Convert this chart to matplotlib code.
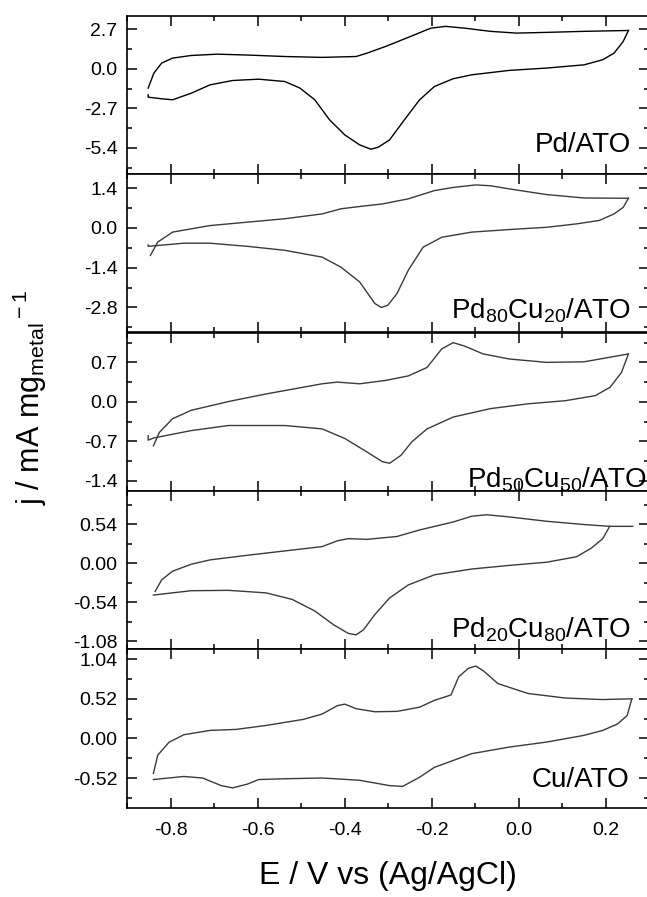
import matplotlib
matplotlib.use("Agg")
import matplotlib.pyplot as plt
from matplotlib.ticker import MultipleLocator, FormatStrFormatter

plt.rcParams['font.family'] = ['Liberation Sans', 'DejaVu Sans']
plt.rcParams['mathtext.fontset'] = 'custom'
plt.rcParams['mathtext.rm'] = 'Liberation Sans'
plt.rcParams['mathtext.it'] = 'Liberation Sans'
plt.rcParams['axes.unicode_minus'] = False

# catalyst names (top to bottom)
labels = ['Pd/ATO', r'Pd$_{80}$Cu$_{20}$/ATO', r'Pd$_{50}$Cu$_{50}$/ATO',
          r'Pd$_{20}$Cu$_{80}$/ATO', 'Cu/ATO']

# Pd/ATO
pd_fwd_E = [-0.852, -0.839, -0.821, -0.796, -0.753, -0.693, -0.624, -0.538, -0.452, -0.374,
            -0.349, -0.306, -0.254, -0.202, -0.168, -0.125, -0.065, -0.005, 0.064, 0.150, 0.252]
pd_fwd_j = [-1.32, -0.30, 0.39, 0.73, 0.91, 1.00, 0.94, 0.84, 0.78, 0.84,
            1.07, 1.53, 2.15, 2.78, 2.90, 2.78, 2.56, 2.44, 2.49, 2.56, 2.62]
pd_rev_E = [0.252, 0.240, 0.219, 0.193, 0.150, 0.064, -0.022, -0.108, -0.151, -0.194, -0.228,
            -0.263, -0.297, -0.323, -0.340, -0.366, -0.400, -0.435, -0.469, -0.503, -0.538,
            -0.598, -0.658, -0.710, -0.753, -0.796, -0.821, -0.852, -0.852]
pd_rev_j = [2.62, 1.87, 1.07, 0.62, 0.27, 0.05, -0.11, -0.41, -0.68, -1.21, -2.12,
            -3.49, -4.86, -5.36, -5.50, -5.20, -4.52, -3.49, -2.12, -1.32, -0.87,
            -0.71, -0.80, -1.10, -1.67, -2.12, -2.05, -1.94, -1.78]

# Pd80Cu20/ATO
p82_fwd_E = [-0.847, -0.830, -0.796, -0.710, -0.624, -0.538, -0.452, -0.409, -0.366, -0.314,
             -0.254, -0.194, -0.151, -0.099, -0.065, -0.022, 0.064, 0.150, 0.252]
p82_fwd_j = [-0.97, -0.50, -0.15, 0.08, 0.20, 0.32, 0.49, 0.67, 0.75, 0.84,
             1.02, 1.31, 1.42, 1.51, 1.48, 1.37, 1.17, 1.05, 1.04]
p82_rev_E = [0.252, 0.240, 0.219, 0.185, 0.133, 0.064, -0.022, -0.108, -0.177, -0.220, -0.254,
             -0.280, -0.301, -0.316, -0.331, -0.366, -0.409, -0.452, -0.538, -0.624, -0.710,
             -0.770, -0.852, -0.852]
p82_rev_j = [1.04, 0.72, 0.49, 0.26, 0.14, 0.02, -0.06, -0.15, -0.33, -0.68, -1.49,
             -2.31, -2.72, -2.80, -2.66, -1.90, -1.38, -1.03, -0.79, -0.65, -0.54,
             -0.54, -0.65, -0.60]

# Pd50Cu50/ATO
p55_fwd_E = [-0.840, -0.826, -0.796, -0.753, -0.667, -0.581, -0.495, -0.452, -0.417, -0.366,
             -0.306, -0.254, -0.211, -0.177, -0.151, -0.125, -0.082, -0.022, 0.064, 0.150, 0.252]
p55_fwd_j = [-0.78, -0.54, -0.30, -0.15, 0.006, 0.14, 0.26, 0.32, 0.35, 0.32,
             0.38, 0.46, 0.61, 0.94, 1.05, 0.99, 0.85, 0.76, 0.70, 0.71, 0.85]
p55_rev_E = [0.252, 0.236, 0.210, 0.176, 0.107, 0.021, -0.065, -0.151, -0.211, -0.246, -0.271,
             -0.297, -0.314, -0.349, -0.400, -0.452, -0.538, -0.667, -0.753, -0.839, -0.852, -0.852]
p55_rev_j = [0.85, 0.52, 0.26, 0.11, 0.02, -0.035, -0.12, -0.27, -0.48, -0.71, -0.95,
             -1.09, -1.06, -0.89, -0.65, -0.48, -0.42, -0.42, -0.51, -0.64, -0.68, -0.60]

# Pd20Cu80/ATO
p28_fwd_E = [-0.836, -0.821, -0.796, -0.753, -0.710, -0.624, -0.538, -0.452, -0.417, -0.392,
             -0.349, -0.280, -0.228, -0.151, -0.108, -0.074, -0.022, 0.064, 0.150, 0.209, 0.262]
p28_fwd_j = [-0.39, -0.23, -0.11, -0.014, 0.046, 0.11, 0.17, 0.23, 0.31, 0.34,
             0.33, 0.37, 0.46, 0.57, 0.65, 0.67, 0.64, 0.58, 0.535, 0.51, 0.51]
p28_rev_E = [0.209, 0.193, 0.167, 0.133, 0.064, -0.022, -0.108, -0.194, -0.254, -0.297, -0.331,
             -0.357, -0.374, -0.392, -0.426, -0.469, -0.521, -0.581, -0.667, -0.753, -0.840]
p28_rev_j = [0.51, 0.34, 0.21, 0.09, 0.014, -0.03, -0.08, -0.16, -0.30, -0.48, -0.71,
             -0.92, -0.99, -0.97, -0.85, -0.66, -0.50, -0.41, -0.375, -0.38, -0.44]

# Cu/ATO
cu_fwd_E = [-0.840, -0.830, -0.804, -0.770, -0.710, -0.650, -0.581, -0.495, -0.452, -0.417,
            -0.400, -0.374, -0.331, -0.280, -0.228, -0.194, -0.156, -0.138, -0.116, -0.099,
            -0.082, -0.048, 0.021, 0.107, 0.193, 0.260]
cu_fwd_j = [-0.46, -0.22, -0.05, 0.048, 0.105, 0.118, 0.17, 0.25, 0.32, 0.43,
            0.45, 0.39, 0.35, 0.355, 0.41, 0.50, 0.57, 0.81, 0.92, 0.95,
            0.89, 0.72, 0.59, 0.53, 0.51, 0.52]
cu_rev_E = [0.260, 0.249, 0.227, 0.193, 0.150, 0.064, -0.022, -0.108, -0.194, -0.228, -0.267,
            -0.297, -0.366, -0.452, -0.538, -0.598, -0.624, -0.658, -0.684, -0.727, -0.770, -0.840]
cu_rev_j = [0.52, 0.30, 0.19, 0.105, 0.04, -0.048, -0.114, -0.20, -0.38, -0.51, -0.63,
            -0.62, -0.55, -0.52, -0.53, -0.54, -0.60, -0.65, -0.62, -0.52, -0.50, -0.54]

curves = [(pd_fwd_E, pd_fwd_j, pd_rev_E, pd_rev_j),
          (p82_fwd_E, p82_fwd_j, p82_rev_E, p82_rev_j),
          (p55_fwd_E, p55_fwd_j, p55_rev_E, p55_rev_j),
          (p28_fwd_E, p28_fwd_j, p28_rev_E, p28_rev_j),
          (cu_fwd_E, cu_fwd_j, cu_rev_E, cu_rev_j)]

y_step = [2.7, 1.4, 0.7, 0.54, 0.52]
y_lims = [(-7.2, 3.63), (-3.68, 1.89), (-1.58, 1.23), (-1.19, 1.0), (-0.91, 1.17)]
y_fmt = ['%.1f', '%.1f', '%.1f', '%.2f', '%.2f']
line_colors = ['black', '#3a3a3a', '#3a3a3a', '#3a3a3a', '#3a3a3a']
label_pos = [(0.965, 0.14), (0.965, 0.09), (0.995, 0.02), (0.965, 0.075), (0.962, 0.13)]

fig = plt.figure(figsize=(6.47, 8.97), dpi=100)
W, H = 647.0, 897.0
left, right = 127.3, 649.3
top, ph = 15.7, 158.4

for i in range(5):
    y0 = top + ph * (i + 1)
    ax = fig.add_axes([left / W, 1 - y0 / H, (right - left) / W, ph / H])
    fE, fj, rE, rj = curves[i]
    ax.plot(fE, fj, color=line_colors[i], lw=1.0)
    ax.plot(rE, rj, color=line_colors[i], lw=1.0)
    ax.set_xlim(-0.9, 0.3)
    ax.set_ylim(*y_lims[i])
    ax.xaxis.set_major_locator(MultipleLocator(0.2))
    ax.xaxis.set_minor_locator(MultipleLocator(0.1))
    ax.yaxis.set_major_locator(MultipleLocator(y_step[i]))
    ax.yaxis.set_minor_locator(MultipleLocator(y_step[i] / 2))
    ax.yaxis.set_major_formatter(FormatStrFormatter(y_fmt[i]))
    ax.xaxis.set_major_formatter(FormatStrFormatter('%.1f'))
    ax.tick_params(which='both', direction='in', top=True, right=True, width=1.1)
    ax.tick_params(which='major', length=7.2)
    ax.tick_params(which='minor', length=3.5)
    ax.tick_params(axis='y', labelsize=14, pad=7)
    ax.tick_params(axis='x', labelsize=14, pad=10.5)
    if i < 4:
        ax.tick_params(axis='x', labelbottom=False)
    for s in ax.spines.values():
        s.set_linewidth(1.2)
    ax.text(label_pos[i][0], label_pos[i][1], labels[i], transform=ax.transAxes,
            ha='right', va='baseline', fontsize=20)

fig.text(388 / W, 1 - 876 / H, 'E / V vs (Ag/AgCl)', ha='center', va='center', fontsize=23)
fig.text(30 / W, 1 - 397 / H, r'j / mA mg$_{\rm metal}$$^{\rm -1}$', rotation=90,
         ha='center', va='center', fontsize=22)

fig.savefig('out.png', dpi=100)
